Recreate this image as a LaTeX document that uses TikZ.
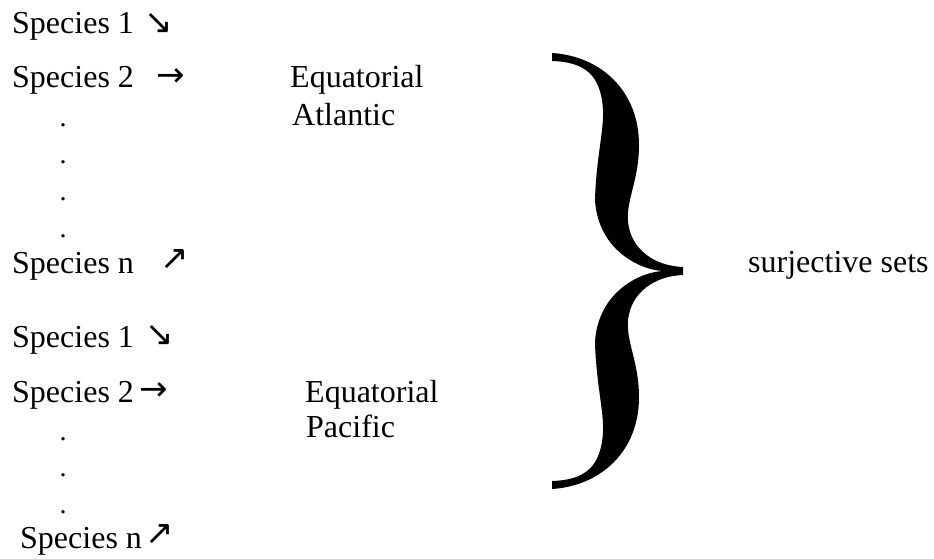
\documentclass[tikz,border=0pt]{standalone}
\usepackage{fontspec}
\setmainfont{Liberation Serif}
\newfontfamily\arrowfont{DejaVu Sans}
\begin{document}
\begin{tikzpicture}[x=1pt,y=-1pt,
  lbl/.style={inner sep=0pt, anchor=base west, font=\fontsize{32}{38}\selectfont},
  dotlbl/.style={inner sep=0pt, anchor=base, font=\fontsize{28}{34}\selectfont},
  arr/.style={inner sep=0pt, anchor=center, font=\arrowfont\fontsize{34}{40}\selectfont},
  bracefill/.style={fill=black, draw=none}]
\useasboundingbox (0,0) rectangle (934,559);
% group 1
\node[lbl] (a1) at (12,34) {Species 1};
\node[arr] (a1r) at (159,24) {↘};
\node[lbl] (a2) at (12,88) {Species 2};
\node[arr] (a2r) at (171,78) {→};
\node[dotlbl] (ad1) at (63,127) {.};
\node[dotlbl] (ad2) at (63,164) {.};
\node[dotlbl] (ad3) at (63,200) {.};
\node[dotlbl] (ad4) at (63,237) {.};
\node[lbl] (an) at (12,273) {Species n};
\node[arr] (anr) at (175,260) {↗};
\node[lbl] (eq1) at (290,88) {Equatorial};
\node[lbl] (atl) at (292,125) {Atlantic};
% group 2
\node[lbl] (b1) at (12,347) {Species 1};
\node[arr] (b1r) at (160,336) {↘};
\node[lbl] (b2) at (12,402) {Species 2};
\node[arr] (b2r) at (154,392) {→};
\node[dotlbl] (bd1) at (63,440) {.};
\node[dotlbl] (bd2) at (63,476) {.};
\node[dotlbl] (bd3) at (63,513) {.};
\node[lbl] (bn) at (20,548) {Species n};
\node[arr] (bnr) at (160,535) {↗};
\node[lbl] (eq2) at (305,402) {Equatorial};
\node[lbl] (pac) at (306,437) {Pacific};
% result
\node[lbl] (sur) at (748,272) {surjective sets};
% brace
\fill[bracefill] (552,53) .. controls (600,56) and (639,90) .. (639,145)
 .. controls (639,180) and (626,200) .. (628,222)
 .. controls (631,250) and (655,266) .. (683,267)
 -- (683,275)
 .. controls (655,276) and (631,292) .. (628,320)
 .. controls (626,342) and (639,362) .. (639,397)
 .. controls (639,452) and (600,486) .. (552,489)
 -- (552,481)
 .. controls (585,480) and (601,467) .. (603,432)
 .. controls (604,412) and (596,382) .. (595,342)
 .. controls (598,292) and (640,272) .. (663,271)
 .. controls (640,270) and (598,250) .. (595,200)
 .. controls (596,160) and (604,130) .. (603,110)
 .. controls (601,75) and (585,62) .. (552,61)
 -- cycle;
\end{tikzpicture}
\end{document}
